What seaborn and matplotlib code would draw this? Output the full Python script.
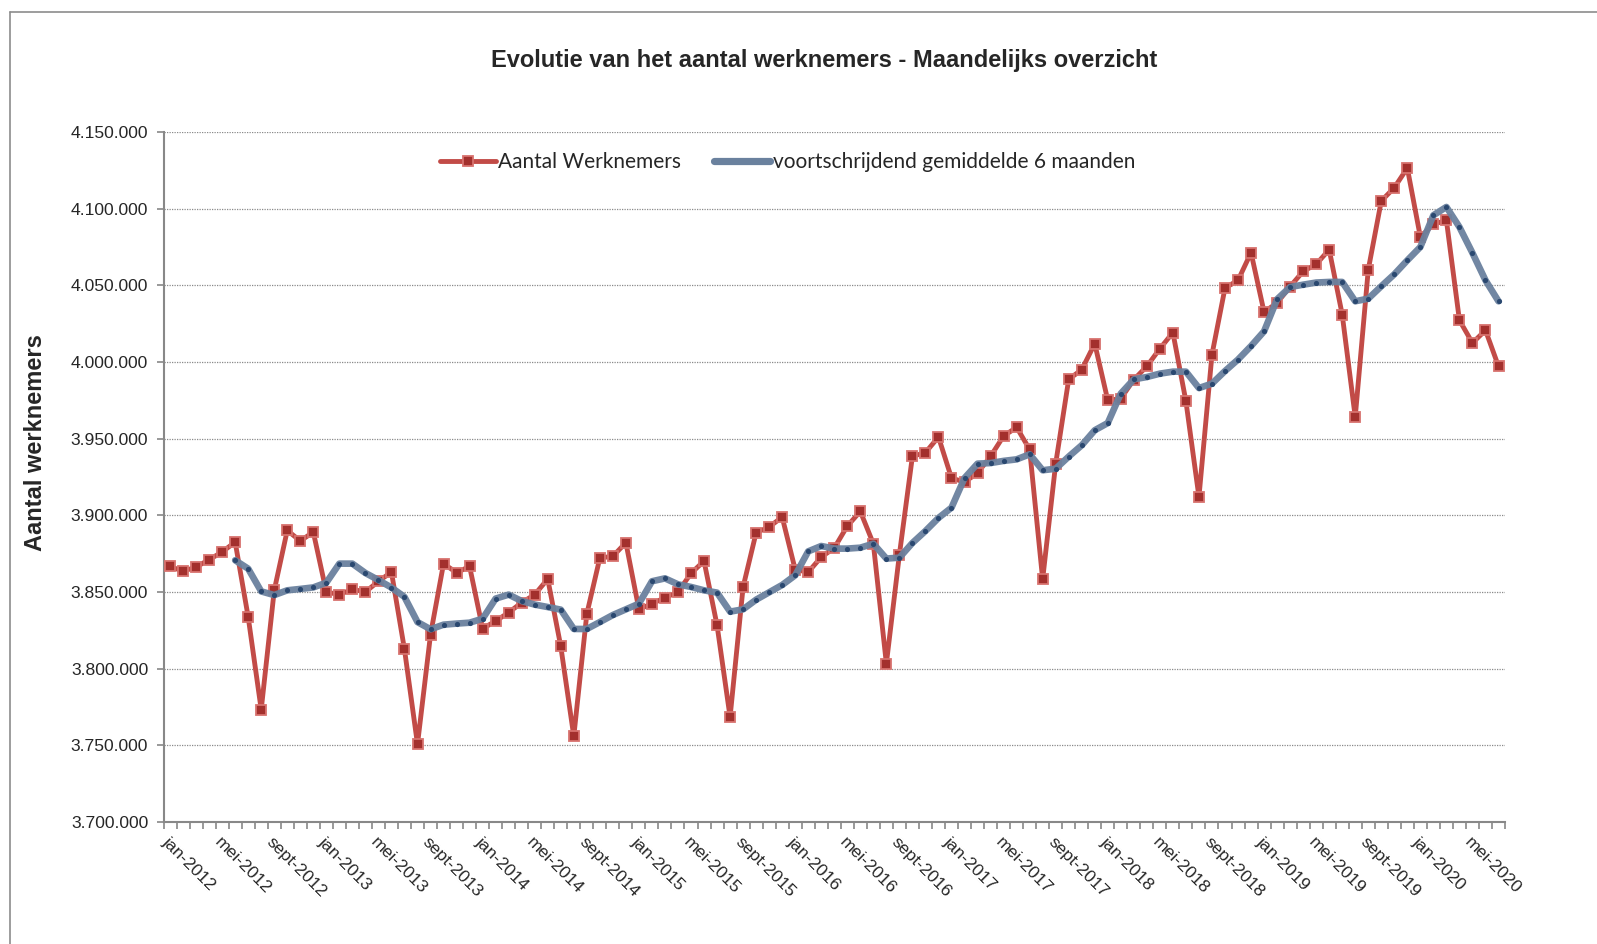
import matplotlib
matplotlib.use("Agg")
import matplotlib.pyplot as plt
from matplotlib.lines import Line2D
from matplotlib.ticker import FuncFormatter, MultipleLocator
import numpy as np
import pandas as pd
import seaborn as sns

# maandelijkse reeks jan-2012 .. jul-2020
months = pd.date_range("2012-01-01", "2020-07-01", freq="MS")

# Aantal werknemers (in duizendtallen)
werknemers = [
    3866.7, 3863.5, 3866.3, 3871.1, 3876.1, 3882.6, 3833.7, 3773.3, 3851.1, 3890.2, 3883.3, 3889.1,
    3850.0, 3848.3, 3851.8, 3850.0, 3857.0, 3863.0, 3812.6, 3750.7, 3822.2, 3868.5, 3862.6, 3866.7,
    3826.1, 3831.1, 3836.6, 3843.1, 3848.3, 3858.5, 3814.6, 3755.9, 3835.7, 3872.2, 3873.3, 3882.2,
    3838.7, 3842.4, 3846.3, 3850.0, 3862.2, 3870.2, 3828.3, 3768.5, 3853.3, 3888.7, 3892.4, 3898.9,
    3864.6, 3863.0, 3872.8, 3878.7, 3893.0, 3902.6, 3881.5, 3803.3, 3874.4, 3938.5, 3940.9, 3951.1,
    3924.3, 3921.7, 3927.6, 3938.5, 3951.7, 3957.4, 3943.0, 3858.3, 3933.7, 3988.7, 3995.0, 4012.0,
    3975.0, 3976.1, 3988.5, 3997.2, 4008.7, 4019.2, 3974.4, 3912.0, 4004.8, 4048.2, 4053.3, 4071.3,
    4032.6, 4038.5, 4049.2, 4059.1, 4063.7, 4073.3, 4030.9, 3964.1, 4060.2, 4105.0, 4113.7, 4126.5,
    4081.5, 4089.8, 4092.4, 4027.2, 4012.4, 4020.7, 3997.2,
]

# voortschrijdend gemiddelde 6 maanden (vanaf jun-2012)
gemiddelde = [
    3870.7, 3865.2, 3850.4, 3848.0, 3851.1, 3852.0, 3853.0,
    3856.1, 3868.5, 3868.5, 3862.4, 3857.8, 3852.9, 3846.8, 3830.4, 3825.7, 3828.7, 3829.4, 3830.0,
    3832.6, 3845.7, 3848.3, 3844.1, 3841.8, 3840.2, 3838.5, 3825.9, 3825.9, 3830.4, 3835.0, 3838.7,
    3842.4, 3857.0, 3858.9, 3855.0, 3853.3, 3851.1, 3849.6, 3837.2, 3838.7, 3845.0, 3849.8, 3854.6,
    3860.9, 3876.5, 3880.0, 3878.3, 3878.3, 3878.9, 3881.5, 3871.8, 3872.4, 3882.0, 3889.8, 3898.3,
    3905.0, 3924.3, 3933.7, 3934.1, 3935.5, 3936.5, 3939.8, 3929.4, 3930.4, 3938.3, 3945.7, 3955.5,
    3960.2, 3979.4, 3988.7, 3990.2, 3992.4, 3993.7, 3993.7, 3983.0, 3985.9, 3994.1, 4001.6, 4010.4,
    4020.0, 4040.9, 4048.9, 4050.4, 4051.8, 4052.2, 4052.2, 4039.6, 4041.3, 4049.4, 4057.2, 4066.3,
    4075.0, 4095.7, 4101.1, 4088.0, 4071.1, 4053.3, 4039.6,
]

tick_labels = [
    "jan-2012", "mei-2012", "sept-2012", "jan-2013", "mei-2013", "sept-2013",
    "jan-2014", "mei-2014", "sept-2014", "jan-2015", "mei-2015", "sept-2015",
    "jan-2016", "mei-2016", "sept-2016", "jan-2017", "mei-2017", "sept-2017",
    "jan-2018", "mei-2018", "sept-2018", "jan-2019", "mei-2019", "sept-2019",
    "jan-2020", "mei-2020",
]

pos = np.arange(len(months))
df = pd.DataFrame({"pos": pos, "werknemers": np.array(werknemers) * 1000})
df_avg = pd.DataFrame({"pos": pos[len(pos) - len(gemiddelde):],
                       "gemiddelde": np.array(gemiddelde) * 1000})

sns.set_theme(style="white")
plt.rcParams["font.family"] = ["Liberation Sans", "DejaVu Sans"]

fig = plt.figure(figsize=(15.97, 9.44), dpi=100)
ax = fig.add_axes([0.1024, 0.1292, 0.8400, 0.7310])

red = "#C24B47"
blue = "#6A819E"
red_marker = dict(marker="s", markersize=6.5, markerfacecolor="#A3302D",
                  markeredgecolor="#D8726E", markeredgewidth=1.3)

sns.lineplot(data=df, x="pos", y="werknemers", ax=ax, color=red, linewidth=3.5,
             zorder=3, **red_marker)
sns.lineplot(data=df_avg, x="pos", y="gemiddelde", ax=ax, color=blue, linewidth=4.8,
             alpha=0.95, solid_capstyle="round", zorder=4)
sns.scatterplot(data=df_avg, x="pos", y="gemiddelde", ax=ax, color="#2A4870",
                s=14, linewidth=0, zorder=5)

ax.set_xlim(-0.5, len(months) - 0.5)
ax.set_ylim(3700000, 4150000)
ax.yaxis.set_major_locator(MultipleLocator(50000))
ax.yaxis.set_major_formatter(FuncFormatter(lambda v, p: f"{int(v):,}".replace(",", ".")))
ax.grid(axis="y", color="#8a8a8a", linestyle=(0, (1, 1)), linewidth=0.9)

ax.set_xticks(pos[::4])
ax.set_xticklabels(tick_labels, rotation=-45, ha="left", va="top", rotation_mode="anchor",
                   fontsize=12.6)
ax.set_xticks(np.arange(-0.5, len(months), 1.0), minor=True)
ax.tick_params(axis="x", which="major", length=0, pad=9)
ax.tick_params(axis="x", which="minor", length=5, width=1.2, color="#888888", direction="out",
               bottom=True)
ax.tick_params(axis="y", length=5, width=1.2, color="#888888", direction="out", left=True,
               labelsize=12.6, pad=6)

for s in ["top", "right"]:
    ax.spines[s].set_visible(False)
for s in ["left", "bottom"]:
    ax.spines[s].set_color("#888888")
    ax.spines[s].set_linewidth(1.5)

ax.set_xlabel("")
ax.set_ylabel("")
fig.text(36 / 1597, 1 - 443 / 944, "Aantal werknemers", rotation=90, ha="center", va="center",
         fontsize=17, fontweight="bold")
fig.text(0.516, 0.936, "Evolutie van het aantal werknemers - Maandelijks overzicht",
         ha="center", va="center", fontsize=17, fontweight="bold")

handles = [
    Line2D([], [], color=red, linewidth=3.5, **red_marker),
    Line2D([], [], color=blue, linewidth=5.2, solid_capstyle="round"),
]
ax.legend(handles, ["Aantal Werknemers", "voortschrijdend gemiddelde 6 maanden"],
          loc="center left", bbox_to_anchor=(0.198, 0.9565), ncol=2, frameon=False,
          borderpad=0, handlelength=2.7, handletextpad=0.1, columnspacing=1.6,
          prop={"family": "Lato", "size": 15})

# rand van het grafiekgebied
fig.add_artist(Line2D([10 / 1597, 1.0], [1 - 11.5 / 944, 1 - 11.5 / 944],
                      color="#8c8c8c", linewidth=1.2))
fig.add_artist(Line2D([10 / 1597, 10 / 1597], [0.0, 1 - 11.5 / 944],
                      color="#8c8c8c", linewidth=1.2))

fig.savefig("out.png", dpi=100)
